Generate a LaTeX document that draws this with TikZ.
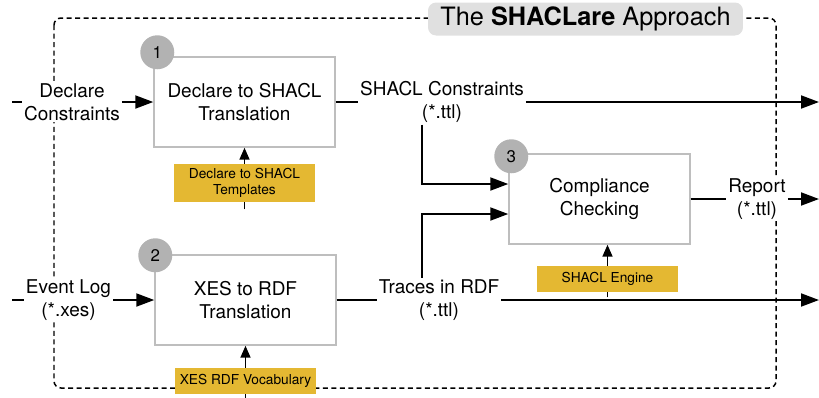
\documentclass[tikz,border=0pt]{standalone}
\usepackage{fontspec}
\setmainfont{TeX Gyre Heros}
\usetikzlibrary{positioning, arrows.meta, calc}
\definecolor{gold}{RGB}{228,184,50}
\definecolor{boxgray}{RGB}{190,190,190}
\definecolor{circgray}{RGB}{178,178,178}
\definecolor{titlegray}{RGB}{224,224,224}

\begin{document}
\begin{tikzpicture}[
  x=0.02cm, y=-0.02cm,
  every node/.style={inner sep=1pt, align=center, font=\fontsize{10.8}{13}\selectfont},
  stepbox/.style={draw=boxgray, line width=0.85pt, fill=white, minimum width=3.62cm, minimum height=1.8cm},
  numcirc/.style={circle, fill=circgray, minimum size=0.68cm, inner sep=0pt, font=\fontsize{9.6}{10}\selectfont},
  goldbox/.style={fill=gold, minimum width=2.82cm, font=\fontsize{7.8}{9}\selectfont},
  lbl/.style={fill=white},
  flow/.style={line width=1.1pt, -{Triangle[length=0.36cm, width=0.26cm]}},
  feed/.style={line width=0.95pt, -{Triangle[length=0.24cm, width=0.2cm]}},
  dashframe/.style={line width=0.85pt, dash pattern=on 0.1cm off 0.07cm, rounded corners=0.14cm}
]

\useasboundingbox (0,0) rectangle (819,397);

\draw[dashframe] (54,18) rectangle (776,388);

\node[fill=titlegray, rounded corners=0.16cm, minimum width=6.3cm, minimum height=0.66cm,
  font=\fontsize{14.4}{17}\selectfont] (title) at (585.5,19) {The \textbf{SHACLare} Approach};

\node[stepbox] (b1) at (244.5,102) {Declare to SHACL\\Translation};
\node[stepbox] (b2) at (245.5,300) {XES to RDF\\Translation};
\node[stepbox] (b3) at (599.5,199) {Compliance\\Checking};

\node[numcirc] (c1) at ($(b1.north west)+(4,-4)$) {1};
\node[numcirc] (c2) at ($(b2.north west)+(1,1)$) {2};
\node[numcirc] (c3) at ($(b3.north west)+(3,3)$) {3};

\node[lbl] (in1) at (72,102) {Declare\\Constraints};
\node[lbl] (in2) at (68.5,300) {Event Log\\(*.xes)};
\node[lbl] (out1) at (442,102) {SHACL Constraints\\(*.ttl)};
\node[lbl] (out2) at (439,300) {Traces in RDF\\(*.ttl)};
\node[lbl] (rep) at (757,199) {Report\\(*.ttl)};

\node[goldbox, minimum height=0.76cm, below=0.32cm of b1] (g1) {Declare to SHACL\\Templates};
\node[goldbox, minimum height=0.52cm] (g2) at (607.5,279) {SHACL Engine};
\node[goldbox, minimum height=0.52cm, below=0.44cm of b2] (g3) {XES RDF Vocabulary};

\coordinate (s1) at (12,102);
\coordinate (s2) at (12,300);
\coordinate (e1) at (819,102);
\coordinate (e2) at (819,300);
\coordinate (e3) at (819,199);
\coordinate (t1) at ($(g1.south)+(0,7)$);
\coordinate (t2) at ($(g2.south)+(0,5)$);
\coordinate (t3) at ($(g3.south)+(0,5)$);

\draw[line width=1.1pt] (s1) -- (in1);
\draw[flow] (in1) -- (b1);
\draw[line width=1.1pt] (s2) -- (in2);
\draw[flow] (in2) -- (b2);

\draw[line width=1.1pt] (b1) -- (out1);
\draw[flow] (out1) -- (e1);
\draw[flow] ($(out1.south)+(-20,0)$) |- ($(b3.west)+(0,-15)$);

\draw[line width=1.1pt] (b2) -- (out2);
\draw[flow] (out2) -- (e2);
\draw[flow] ($(out2.north)+(-17,0)$) |- ($(b3.west)+(0,15)$);

\draw[line width=1.1pt] (b3) -- (rep);
\draw[flow] (rep) -- (e3);

\draw[line width=0.95pt] (t1) -- (g1.south);
\draw[feed] (g1.north) -- (b1.south);
\draw[line width=0.95pt] (t2) -- (g2.south);
\draw[feed] (g2.north) -- (g2.north |- b3.south);
\draw[line width=0.95pt] (t3) -- (g3.south);
\draw[feed] (g3.north) -- (b2.south);

\end{tikzpicture}
\end{document}
